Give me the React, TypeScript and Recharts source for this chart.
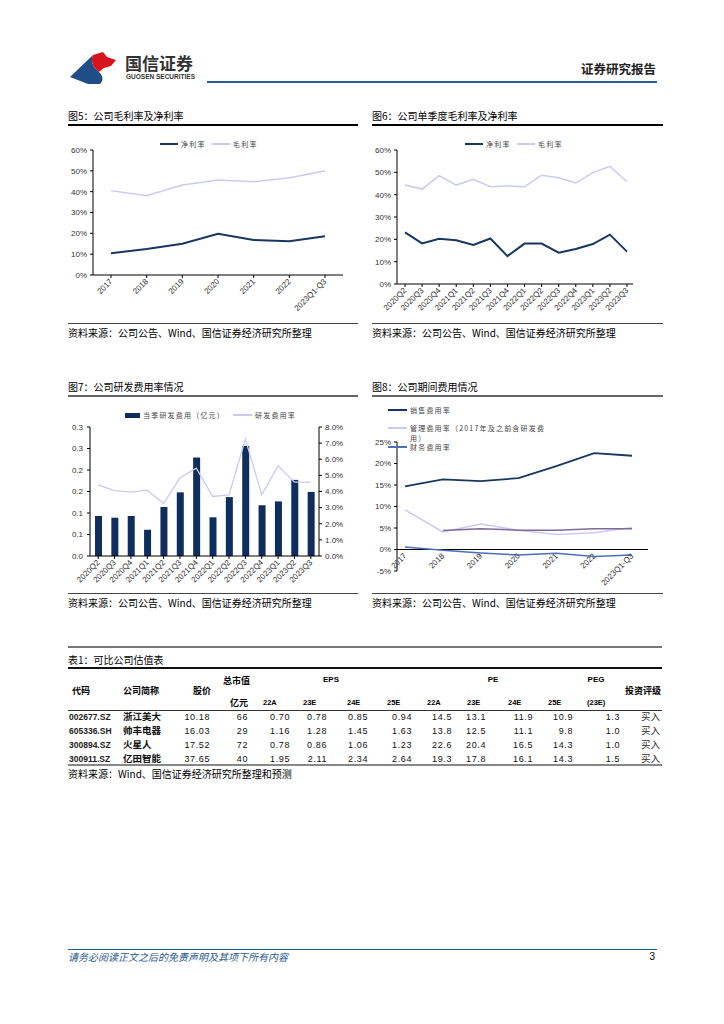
import React from "react";
import { LineChart, Line, ComposedChart, Bar, XAxis, YAxis, ReferenceLine } from "recharts";

// 图5 annual margins (%)
const ANNUAL = ["2017", "2018", "2019", "2020", "2021", "2022", "2023Q1-Q3"];
const NET_ANNUAL = [10.4, 12.5, 15.0, 19.8, 16.8, 16.2, 18.6];
const GROSS_ANNUAL = [40.5, 38.1, 43.2, 45.6, 44.8, 46.7, 49.9];

// 图6 quarterly margins (%)
const QUARTERS = ["2020Q2", "2020Q3", "2020Q4", "2021Q1", "2021Q2", "2021Q3", "2021Q4", "2022Q1", "2022Q2", "2022Q3", "2022Q4", "2023Q1", "2023Q2", "2023Q3"];
const NET_Q = [23.1, 18.2, 20.3, 19.6, 17.5, 20.4, 12.5, 18.1, 18.1, 14.0, 15.7, 17.9, 22.1, 14.5];
const GROSS_Q = [44.3, 42.5, 48.5, 44.3, 46.9, 43.6, 43.9, 43.6, 48.7, 47.6, 45.2, 49.9, 52.7, 45.8];

// 图7 R&D spend (亿元) and R&D ratio (%)
const RD_EXP = [0.093, 0.089, 0.093, 0.061, 0.114, 0.148, 0.229, 0.090, 0.137, 0.256, 0.118, 0.127, 0.177, 0.149];
const RD_RATE = [4.41, 4.06, 3.96, 4.08, 3.25, 4.85, 5.45, 3.69, 3.79, 7.25, 3.79, 5.6, 4.58, 4.58];

// 图8 expense ratios (%)
const SELL = [14.7, 16.3, 15.9, 16.6, 19.4, 22.4, 21.8];
const ADMIN = [9.2, 4.1, 5.9, 4.5, 3.5, 3.9, 5.1];
const RD_ANNUAL = [null, 4.4, 4.8, 4.5, 4.5, 4.8, 4.8];
const FIN = [0.6, -0.2, -0.8, -1.3, -0.9, -1.6, -1.3];

// 表1
const CODES = ["002677.SZ", "605336.SH", "300894.SZ", "300911.SZ"];
const NAMES = ["浙江美大", "帅丰电器", "火星人", "亿田智能"];
const PRICE = ["10.18", "16.03", "17.52", "37.65"];
const MKT_CAP = ["66", "29", "72", "40"];
const EPS = [["0.70", "0.78", "0.85", "0.94"], ["1.16", "1.28", "1.45", "1.63"], ["0.78", "0.86", "1.06", "1.23"], ["1.95", "2.11", "2.34", "2.64"]];
const PE = [["14.5", "13.1", "11.9", "10.9"], ["13.8", "12.5", "11.1", "9.8"], ["22.6", "20.4", "16.5", "14.3"], ["19.3", "17.8", "16.1", "14.3"]];
const PEG = ["1.3", "1.0", "1.0", "1.5"];
const RATING = ["买入", "买入", "买入", "买入"];
const YEARS = ["22A", "23E", "24E", "25E"];

const NAVY = "#17375E";
const LAVENDER = "#CACAF2";
const BAR = "#0F2E5E";
const PURPLE = "#7D6A9A";
const BLUE = "#4A70B8";
const CJK = '"Noto Sans CJK SC", "Noto Sans", sans-serif';
const LATIN = '"Liberation Sans", Arial, sans-serif';
const AXIS_TICK = { fontSize: 8, fill: "#333", fontFamily: LATIN };
const AXIS_LINE = { stroke: "#000" };

const annualData = ANNUAL.map((label, i) => ({ label, net: NET_ANNUAL[i], gross: GROSS_ANNUAL[i] }));
const quarterData = QUARTERS.map((label, i) => ({ label, net: NET_Q[i], gross: GROSS_Q[i] }));
const rdData = QUARTERS.map((label, i) => ({ label, exp: RD_EXP[i], rate: RD_RATE[i] }));
const feeData = ANNUAL.map((label, i) => ({ label, sell: SELL[i], admin: ADMIN[i], rd: RD_ANNUAL[i], fin: FIN[i] }));

// slanted category label; lift moves it up when the axis sits at y=0 inside the plot
// eslint-disable-next-line @typescript-eslint/no-explicit-any
const SlantTick = ({ x, y, payload, lift = 0 }: any) => (
  <text x={x} y={y - lift} dy="0.35em" transform={`rotate(-45 ${x} ${y - lift})`}
    textAnchor="end" fontSize={8} fill="#333" fontFamily={LATIN}>{payload.value}</text>
);

// eslint-disable-next-line @typescript-eslint/no-explicit-any
const Txt = ({ x, y, a = "left", size = 10, weight = 400, color = "#000", font = CJK, italic = false, spacing = 0, children }: any) => {
  const tx = a === "left" ? "0" : a === "right" ? "-100%" : "-50%";
  return (
    <div style={{ position: "absolute", left: x, top: y, transform: `translate(${tx}, -50%)`, fontSize: size, fontWeight: weight, color, fontFamily: font, whiteSpace: "nowrap", lineHeight: 1, fontStyle: italic ? "italic" : "normal", letterSpacing: spacing }}>
      {children}
    </div>
  );
};

// eslint-disable-next-line @typescript-eslint/no-explicit-any
const HLine = ({ x1, x2, y, w = 1, color = "#000" }: any) => (
  <div style={{ position: "absolute", left: x1, top: y - w / 2, width: x2 - x1, height: w, background: color }} />
);

const LegendText = ({ x, y, children }: { x: number; y: number; children: React.ReactNode }) => (
  <Txt x={x} y={y} size={7} color="#444" spacing={1.2}>{children}</Txt>
);

const Box = ({ left, top, children }: { left: number; top: number; children: React.ReactNode }) => (
  <div style={{ position: "absolute", left, top }}>{children}</div>
);

export default function App() {
  const epsRight = [290, 327, 368, 412];
  const peRight = [452, 486, 533, 573];
  const rowY = [717, 731, 745, 759];
  const numStyle = { size: 9, font: LATIN, spacing: 0.6, color: "#111" };

  return (
    <div style={{ position: "absolute", left: 0, top: 0, width: 724, height: 1024, background: "#fff", overflow: "hidden" }}>
      {/* header */}
      <svg style={{ position: "absolute", left: 0, top: 0 }} width={130} height={90}>
        <path d="M70,77 L93,55 C90,62 94,68 99,72 C103,76 104,80 100,84 L88,84 Z" fill="#1F4E86" />
        <path d="M93,55 L103,52 L107,57 L116,60 L111,66 L104,68 C101,70 100,71 99,72 C94,68 90,62 93,55 Z" fill="#D7141E" />
      </svg>
      <Txt x={125} y={62} size={17} weight={700} color="#333">国信证券</Txt>
      <Txt x={126} y={77} size={6.5} weight={700} color="#333" font={LATIN}>GUOSEN SECURITIES</Txt>
      <Txt x={656} y={69} a="right" size={12.5} weight={700} color="#222">证券研究报告</Txt>
      <HLine x1={207} x2={657} y={82} w={2} color="#2B5B8E" />

      {/* chart titles */}
      <Txt x={68} y={116} size={10}>图5：公司毛利率及净利率</Txt>
      <HLine x1={68} x2={358} y={125} w={1.5} />
      <Txt x={372} y={116} size={10}>图6：公司单季度毛利率及净利率</Txt>
      <HLine x1={372} x2={663} y={125} w={1.5} />

      {/* 图5 */}
      <HLine x1={160} x2={178} y={144} w={2} color={NAVY} />
      <LegendText x={181} y={144}>净利率</LegendText>
      <HLine x1={212} x2={230} y={144} w={1.5} color={LAVENDER} />
      <LegendText x={233} y={144}>毛利率</LegendText>
      <Box left={60} top={135}>
        <LineChart width={300} height={182} data={annualData} margin={{ top: 15, right: 17, left: 3, bottom: 0 }}>
          <XAxis dataKey="label" interval={0} height={42} padding={{ left: 18, right: 18 }} tickSize={3} tickMargin={2}
            axisLine={AXIS_LINE} tickLine={AXIS_LINE} tick={(p) => <SlantTick {...p} />} />
          <YAxis domain={[0, 60]} ticks={[0, 10, 20, 30, 40, 50, 60]} tickFormatter={(v) => `${v}%`} width={30}
            tick={AXIS_TICK} tickSize={3} tickMargin={3} axisLine={AXIS_LINE} tickLine={AXIS_LINE} />
          <Line dataKey="net" stroke={NAVY} strokeWidth={2} dot={false} isAnimationActive={false} />
          <Line dataKey="gross" stroke={LAVENDER} strokeWidth={1.5} dot={false} isAnimationActive={false} />
        </LineChart>
      </Box>

      {/* 图6 */}
      <HLine x1={465} x2={483} y={144} w={2} color={NAVY} />
      <LegendText x={486} y={144}>净利率</LegendText>
      <HLine x1={517} x2={535} y={144} w={1.5} color={LAVENDER} />
      <LegendText x={538} y={144}>毛利率</LegendText>
      <Box left={365} top={135}>
        <LineChart width={300} height={190} data={quarterData} margin={{ top: 15, right: 32, left: 2, bottom: 0 }}>
          <XAxis dataKey="label" interval={0} height={41} padding={{ left: 8, right: 6 }} tickSize={3} tickMargin={2}
            axisLine={AXIS_LINE} tickLine={AXIS_LINE} tick={(p) => <SlantTick {...p} />} />
          <YAxis domain={[0, 60]} ticks={[0, 10, 20, 30, 40, 50, 60]} tickFormatter={(v) => `${v}%`} width={30}
            tick={AXIS_TICK} tickSize={3} tickMargin={3} axisLine={AXIS_LINE} tickLine={AXIS_LINE} />
          <Line dataKey="net" stroke={NAVY} strokeWidth={2} dot={false} isAnimationActive={false} />
          <Line dataKey="gross" stroke={LAVENDER} strokeWidth={1.5} dot={false} isAnimationActive={false} />
        </LineChart>
      </Box>

      <HLine x1={68} x2={358} y={323} w={1} color="#444" />
      <Txt x={68} y={333} size={10}>资料来源：公司公告、Wind、国信证券经济研究所整理</Txt>
      <HLine x1={372} x2={663} y={323} w={1} color="#444" />
      <Txt x={372} y={333} size={10}>资料来源：公司公告、Wind、国信证券经济研究所整理</Txt>

      <Txt x={68} y={387} size={10}>图7：公司研发费用率情况</Txt>
      <HLine x1={68} x2={358} y={396} w={1.5} color="#666" />
      <Txt x={372} y={387} size={10}>图8：公司期间费用情况</Txt>
      <HLine x1={372} x2={663} y={396} w={1.5} color="#666" />

      {/* 图7 */}
      <div style={{ position: "absolute", left: 125, top: 413, width: 15, height: 5, background: BAR }} />
      <LegendText x={143} y={415}>当季研发费用（亿元）</LegendText>
      <HLine x1={233} x2={252} y={415} w={1.2} color={LAVENDER} />
      <LegendText x={255} y={415}>研发费用率</LegendText>
      <Box left={60} top={405}>
        <ComposedChart width={300} height={190} data={rdData} margin={{ top: 22, right: 5, left: 5, bottom: 0 }}>
          <XAxis dataKey="label" interval={0} height={39} tickSize={3} tickMargin={2}
            axisLine={AXIS_LINE} tickLine={AXIS_LINE} tick={(p) => <SlantTick {...p} />} />
          <YAxis yAxisId="exp" domain={[0, 0.3]} ticks={[0, 0.05, 0.1, 0.15, 0.2, 0.25, 0.3]}
            tickFormatter={(v) => (Math.round(v * 10 + 1e-9) / 10).toFixed(1)} width={25}
            tick={AXIS_TICK} tickSize={3} tickMargin={4} axisLine={AXIS_LINE} tickLine={AXIS_LINE} />
          <YAxis yAxisId="rate" orientation="right" domain={[0, 8]} ticks={[0, 1, 2, 3, 4, 5, 6, 7, 8]}
            tickFormatter={(v) => `${v.toFixed(1)}%`} width={36}
            tick={AXIS_TICK} tickSize={3} tickMargin={3} axisLine={AXIS_LINE} tickLine={AXIS_LINE} />
          <Bar yAxisId="exp" dataKey="exp" fill={BAR} barSize={7} isAnimationActive={false} />
          <Line yAxisId="rate" dataKey="rate" stroke={LAVENDER} strokeWidth={1.3} dot={false} isAnimationActive={false} />
        </ComposedChart>
      </Box>

      {/* 图8 */}
      <Box left={365} top={400}>
        <LineChart width={300} height={200} data={feeData} margin={{ top: 42, right: 17, left: 2, bottom: 0 }}>
          <XAxis dataKey="label" interval={0} height={29} padding={{ left: 8, right: 16 }} tickSize={3} tickMargin={2}
            axisLine={false} tickLine={false} tick={(p) => <SlantTick {...p} lift={129 * 5 / 30} />} />
          <YAxis domain={[-5, 25]} ticks={[-5, 0, 5, 10, 15, 20, 25]} tickFormatter={(v) => `${v}%`} width={30}
            tick={AXIS_TICK} tickSize={3} tickMargin={3} axisLine={AXIS_LINE} tickLine={AXIS_LINE} />
          <ReferenceLine y={0} stroke="#000" strokeWidth={1} />
          <Line dataKey="sell" stroke={NAVY} strokeWidth={1.8} dot={false} isAnimationActive={false} />
          <Line dataKey="admin" stroke={LAVENDER} strokeWidth={1.5} dot={false} isAnimationActive={false} />
          <Line dataKey="rd" stroke={PURPLE} strokeWidth={1.5} dot={false} isAnimationActive={false} />
          <Line dataKey="fin" stroke={BLUE} strokeWidth={1.5} dot={false} isAnimationActive={false} />
        </LineChart>
      </Box>
      <HLine x1={388} x2={407} y={410} w={1.8} color={NAVY} />
      <LegendText x={410} y={410}>销售费用率</LegendText>
      <HLine x1={388} x2={407} y={428} w={1.5} color={LAVENDER} />
      <LegendText x={410} y={428}>管理费用率（2017年及之前含研发费</LegendText>
      <LegendText x={410} y={438}>用）</LegendText>
      <HLine x1={388} x2={407} y={447} w={1.5} color={BLUE} />
      <LegendText x={410} y={447}>财务费用率</LegendText>

      <HLine x1={68} x2={358} y={593} w={1} color="#444" />
      <Txt x={68} y={603} size={10}>资料来源：公司公告、Wind、国信证券经济研究所整理</Txt>
      <HLine x1={372} x2={663} y={593} w={1} color="#444" />
      <Txt x={372} y={603} size={10}>资料来源：公司公告、Wind、国信证券经济研究所整理</Txt>

      {/* 表1 */}
      <HLine x1={68} x2={662} y={647} w={1.5} color="#777" />
      <Txt x={68} y={660} size={10}>表1：可比公司估值表</Txt>
      <HLine x1={68} x2={662} y={668} w={1.5} color="#111" />
      <Txt x={72} y={690} size={9} weight={700}>代码</Txt>
      <Txt x={123} y={690} size={9} weight={700}>公司简称</Txt>
      <Txt x={193} y={690} size={9} weight={700}>股价</Txt>
      <Txt x={223} y={680} size={9} weight={700}>总市值</Txt>
      <Txt x={230} y={702} size={9} weight={700}>亿元</Txt>
      <Txt x={331} y={680} a="center" size={8} weight={700} font={LATIN}>EPS</Txt>
      <Txt x={493} y={680} a="center" size={8} weight={700} font={LATIN}>PE</Txt>
      <Txt x={596} y={680} a="center" size={8} weight={700} font={LATIN}>PEG</Txt>
      <Txt x={625} y={690} size={9} weight={700}>投资评级</Txt>
      {YEARS.map((yr, i) => (
        <Txt key={`e${yr}`} x={[263, 303, 347, 387][i]} y={703} size={7.5} weight={700} font={LATIN}>{yr}</Txt>
      ))}
      {YEARS.map((yr, i) => (
        <Txt key={`p${yr}`} x={[427, 467, 508, 548][i]} y={703} size={7.5} weight={700} font={LATIN}>{yr}</Txt>
      ))}
      <Txt x={587} y={703} size={7.5} weight={700} font={LATIN}>(23E)</Txt>
      <HLine x1={68} x2={662} y={710} w={1} color="#333" />
      {CODES.map((code, r) => (
        <React.Fragment key={code}>
          <Txt x={69} y={rowY[r]} size={8.5} font={LATIN} weight={700} color="#222">{code}</Txt>
          <Txt x={123} y={rowY[r]} size={9.5} weight={700} color="#111">{NAMES[r]}</Txt>
          <Txt x={210} y={rowY[r]} a="right" {...numStyle}>{PRICE[r]}</Txt>
          <Txt x={248} y={rowY[r]} a="right" {...numStyle}>{MKT_CAP[r]}</Txt>
          {EPS[r].map((v, c) => <Txt key={`e${c}`} x={epsRight[c]} y={rowY[r]} a="right" {...numStyle}>{v}</Txt>)}
          {PE[r].map((v, c) => <Txt key={`p${c}`} x={peRight[c]} y={rowY[r]} a="right" {...numStyle}>{v}</Txt>)}
          <Txt x={620} y={rowY[r]} a="right" {...numStyle}>{PEG[r]}</Txt>
          <Txt x={660} y={rowY[r]} a="right" size={9.5} color="#333">{RATING[r]}</Txt>
        </React.Fragment>
      ))}
      <HLine x1={68} x2={662} y={765} w={2} color="#888" />
      <Txt x={68} y={774} size={10}>资料来源：Wind、国信证券经济研究所整理和预测</Txt>

      {/* footer */}
      <HLine x1={68} x2={657} y={949} w={1} color="#2B5B8E" />
      <Txt x={68} y={957} size={10} italic color="#2B5B8E">请务必阅读正文之后的免责声明及其项下所有内容</Txt>
      <Txt x={655} y={957} a="right" size={10} font={LATIN}>3</Txt>
    </div>
  );
}
